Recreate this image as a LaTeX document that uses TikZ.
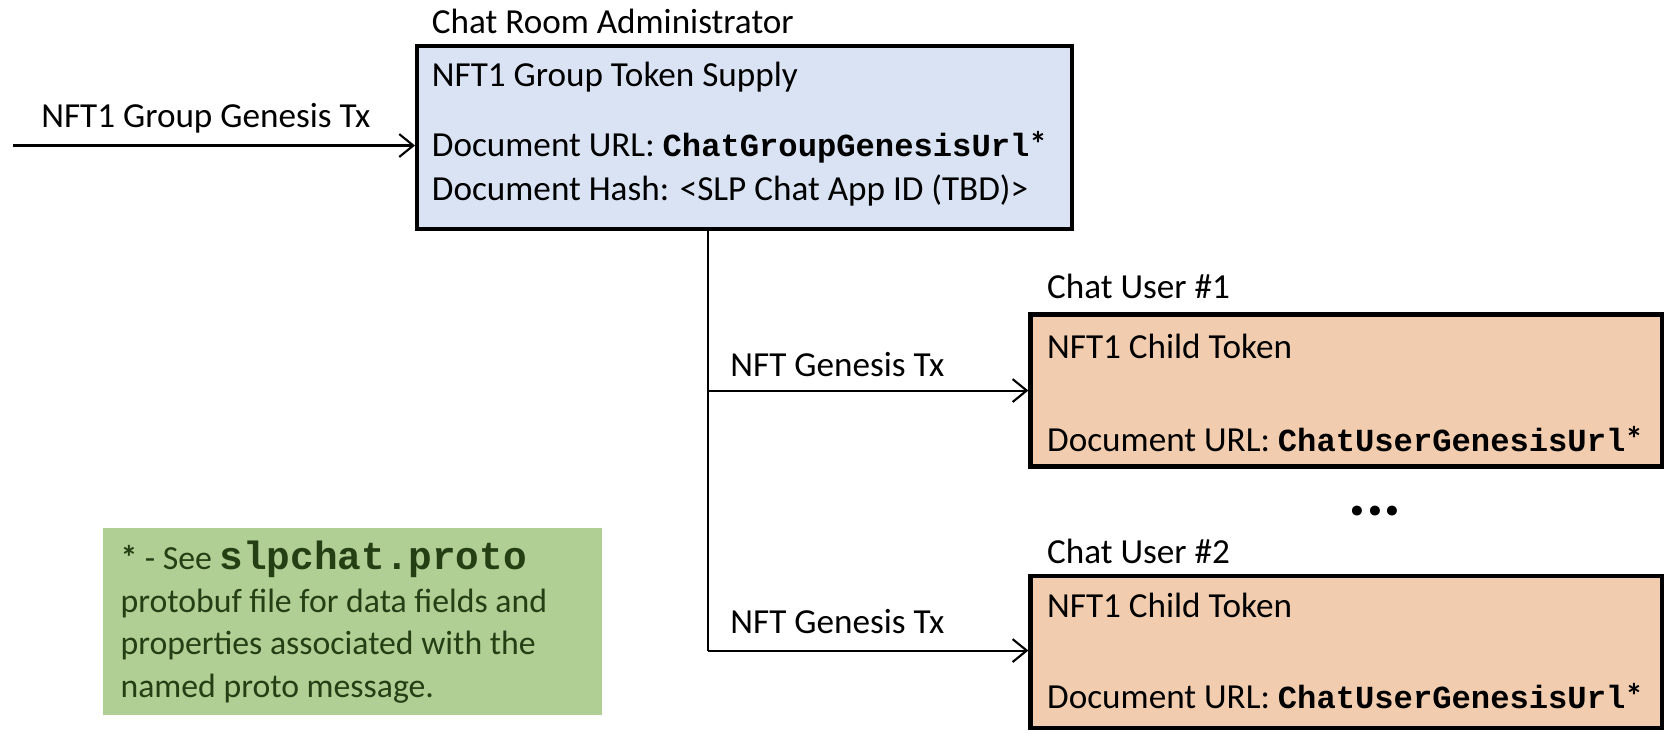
\documentclass[tikz,border=0pt]{standalone}
\usepackage{fontspec}
\setmainfont{Carlito}
\setmonofont{Liberation Mono}
\usetikzlibrary{arrows.meta}
\definecolor{adminblue}{HTML}{DAE3F3}
\definecolor{userpeach}{HTML}{F1CCAF}
\definecolor{notegreen}{HTML}{AFCF94}
\definecolor{notetext}{HTML}{253F14}
\newcommand{\codename}[1]{{\fontsize{9.15}{10.5}\selectfont\ttfamily\bfseries #1}\textbf{*}}
\newcommand{\notecode}[1]{{\fontsize{11.2}{12}\selectfont\ttfamily\bfseries #1}}
\tikzset{
  box/.style={draw, line width=1.2pt, inner sep=0pt},
  txt/.style={anchor=base west, inner sep=0pt},
  arr/.style={line width=0.6pt, -{Straight Barb[length=4pt,width=6.5pt]}},
}
\begin{document}
\begin{tikzpicture}[x=0.0107cm, y=-0.0107cm, font=\fontsize{10}{12}\selectfont]
  \useasboundingbox (0,0) rectangle (1568.2,697.2);
  \draw
    (696,128.5) node[box, fill=adminblue, minimum width=6.55cm, minimum height=1.83cm] (admin){}
    (1258,365) node[box, fill=userpeach, minimum width=6.31cm, minimum height=1.52cm] (user1){}
    (1258,609) node[box, fill=userpeach, minimum width=6.31cm, minimum height=1.52cm] (user2){}
    (329.5,580.5) node[fill=notegreen, inner sep=0pt, minimum width=4.98cm, minimum height=1.87cm] (note){};
  \node[txt] (admintitle) at (403,31) {Chat Room Administrator};
  \node[txt] (adminline1) at (403,81) {NFT1 Group Token Supply};
  \node[txt] (adminline2) at (403,146) {Document URL: \codename{ChatGroupGenesisUrl}};
  \node[txt] (adminline3) at (403,187) {Document Hash: <SLP Chat App ID (TBD)>};
  \node[txt] (user1title) at (978,279) {Chat User \#1};
  \node[txt] (user1line1) at (978,335) {NFT1 Child Token};
  \node[txt] (user1line2) at (978,422) {Document URL: \codename{ChatUserGenesisUrl}};
  \node[txt] (user2title) at (978,527) {Chat User \#2};
  \node[txt] (user2line1) at (978,577) {NFT1 Child Token};
  \node[txt] (user2line2) at (978,662) {Document URL: \codename{ChatUserGenesisUrl}};
  \node[inner sep=0pt, font=\fontsize{19}{19}\selectfont\bfseries] (more) at (1285,478) {...};
  \begin{scope}[text=notetext, font=\fontsize{9.6}{11.5}\selectfont]
    \node[txt] (note1) at (112,532) {\textbf{*} - See \notecode{slpchat.proto}};
    \node[txt] (note2) at (112,572) {protobuf file for data fields and};
    \node[txt] (note3) at (112,612) {properties associated with the};
    \node[txt] (note4) at (112,652) {named proto message.};
  \end{scope}
  \coordinate (in) at (12,136);
  \coordinate (b1) at (662,365);
  \coordinate (b2) at (662,608);
  \node[txt] (inlabel) at (38,119) {NFT1 Group Genesis Tx};
  \node[txt] (b1label) at (682,352) {NFT Genesis Tx};
  \node[txt] (b2label) at (682,592) {NFT Genesis Tx};
  \begin{scope}[arr]
    \draw (in) -- (in -| admin.west);
    \draw (b1) -- (user1.west);
    \draw (b2) -- (b2 -| user2.west);
  \end{scope}
  \draw[line width=0.6pt] (admin.south -| b1) -- (b2);
\end{tikzpicture}
\end{document}
